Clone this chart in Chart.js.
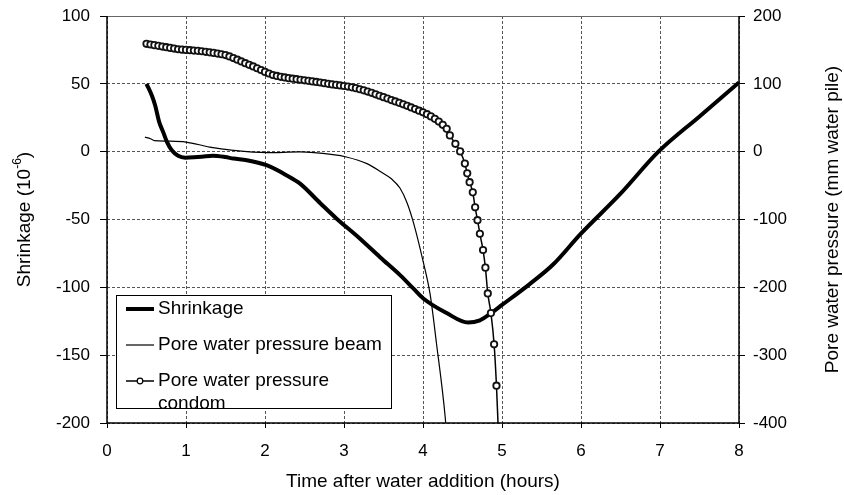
<!DOCTYPE html>
<html>
<head>
<meta charset="utf-8">
<script src="https://cdn.jsdelivr.net/npm/chart.js@4.4.0/dist/chart.umd.min.js"></script>
<style>
  html, body { margin: 0; padding: 0; background: #fff; }
  #grafica { display: block; }
</style>
</head>
<body>
<canvas id="grafica" width="844" height="495"></canvas>
<script>
// Shrinkage (10^-6), left axis
const shrinkHours = [0.5, 0.57, 0.61, 0.66, 0.71, 0.76, 0.82, 0.9, 0.99, 1.1, 1.2, 1.34, 1.5, 1.6, 1.77,
  2.02, 2.27, 2.44, 2.7, 2.9, 3.2, 3.46, 3.71, 3.88, 4.0, 4.3, 4.57, 4.72, 4.85, 5.0, 5.35, 5.65, 5.99,
  6.5, 6.98, 7.5, 8.0];
const shrinkValues = [50, 41, 34, 22, 14.6, 7, 1, -3, -4.4, -4.2, -3.8, -3, -4, -5.1, -6.3,
  -10, -17.3, -23.4, -38, -49, -64, -78, -91, -101, -108, -119, -126, -124.3, -119.5, -113, -97.6, -83, -61,
  -31, 0, 26, 51];

// Pore water pressure beam (mm water pile), right axis
const beamHours = [0.48, 0.55, 0.6, 0.76, 1.0, 1.3, 1.6, 2.02, 2.44, 2.86, 3.03, 3.29, 3.47, 3.6, 3.71,
  3.8, 3.88, 4.0, 4.09, 4.17, 4.28, 4.3];
const beamValues = [21.4, 19, 16.4, 15.6, 14.2, 6.8, 2, -1.4, -0.4, -4.4, -7.8, -17.6, -30, -40, -54,
  -76, -105, -161, -210, -282, -390, -420];

// Pore water pressure condom (mm water pile), right axis
const condomHours = [0.5, 0.55, 0.6, 0.65, 0.7, 0.75, 0.8, 0.85, 0.9, 0.95, 1.0, 1.05, 1.1, 1.15, 1.2,
  1.25, 1.3, 1.35, 1.4, 1.45, 1.5, 1.55, 1.6, 1.65, 1.7, 1.75, 1.8, 1.85, 1.9, 1.95, 2.0, 2.05, 2.1,
  2.15, 2.2, 2.25, 2.3, 2.35, 2.4, 2.45, 2.5, 2.55, 2.6, 2.65, 2.7, 2.75, 2.8, 2.85, 2.9, 2.95, 3.0,
  3.05, 3.1, 3.15, 3.2, 3.25, 3.3, 3.35, 3.4, 3.45, 3.5, 3.55, 3.6, 3.65, 3.7, 3.75, 3.8, 3.85, 3.9,
  3.95, 4.0, 4.05, 4.1, 4.15, 4.2, 4.25, 4.3, 4.34, 4.41, 4.47, 4.53, 4.56, 4.59, 4.63, 4.66, 4.69,
  4.72, 4.76, 4.79, 4.82, 4.86, 4.9, 4.93, 4.96];
const condomValues = [159, 158, 157, 156, 155, 154, 153, 152, 151, 150.4, 150, 149.6, 149, 148.6, 148,
  147.2, 146.4, 145.6, 144.6, 143.6, 142.4, 140.4, 138, 135.6, 133, 130.4, 128, 125.6, 123, 120.4, 117.6,
  115.2, 113, 111.6, 110.4, 109.4, 108.4, 107.6, 106.8, 106, 105.2, 104.4, 103.6, 102.8, 102, 101, 100,
  99.2, 98.4, 97.6, 96.8, 96, 94.8, 93.6, 92, 90.4, 88.6, 86.8, 84.6, 82.4, 80.4, 78.4, 76, 74, 72,
  69.8, 67.6, 65.2, 62.8, 60.4, 58, 55.2, 52, 48.4, 44.4, 39.6, 33.6, 24, 11.6, 0.4, -17.6, -32, -45,
  -60, -82, -101, -121, -145, -171, -209, -238, -284, -345, -430];

const leftTicks = [-200, -150, -100, -50, 0, 50, 100];
const rightTicks = [-400, -300, -200, -100, 0, 100, 200];
const hourTicks = [0, 1, 2, 3, 4, 5, 6, 7, 8];

const seriesNames = ['Shrinkage', 'Pore water pressure beam', 'Pore water pressure condom'];

const FONT = '"Liberation Sans", Arial, sans-serif';

function puntos(xs, ys) {
  return xs.map((x, i) => ({ x: x, y: ys[i] }));
}

// Marco, leyenda y títulos de ejes
const extras = {
  id: 'extras',
  beforeDatasetsDraw(chart) {
    const { ctx, chartArea: a } = chart;
    ctx.save();
    ctx.setLineDash([]);
    ctx.lineWidth = 1;
    ctx.strokeStyle = '#666';
    ctx.beginPath();
    ctx.moveTo(a.left, a.top + 0.5);
    ctx.lineTo(a.right, a.top + 0.5);
    ctx.stroke();
    ctx.strokeStyle = '#000';
    ctx.lineWidth = 1.5;
    ctx.beginPath();
    ctx.moveTo(a.left, a.top);
    ctx.lineTo(a.left, a.bottom);
    ctx.lineTo(a.right, a.bottom);
    ctx.lineTo(a.right, a.top);
    ctx.stroke();
    ctx.restore();
  },
  afterDatasetsDraw(chart) {
    const ctx = chart.ctx;
    const box = { x: 116, y: 295, w: 275, h: 113 };
    ctx.save();
    ctx.fillStyle = '#fff';
    ctx.fillRect(box.x, box.y, box.w, box.h);
    ctx.beginPath();
    ctx.rect(box.x, box.y, box.w, box.h);
    ctx.clip();
    ctx.fillStyle = '#000';
    ctx.strokeStyle = '#000';
    ctx.font = '19px ' + FONT;
    ctx.textBaseline = 'middle';
    ctx.textAlign = 'left';
    // Shrinkage
    ctx.lineWidth = 4;
    ctx.beginPath(); ctx.moveTo(126, 309); ctx.lineTo(154, 309); ctx.stroke();
    ctx.fillText(seriesNames[0], 158, 309);
    // Beam
    ctx.lineWidth = 1.2;
    ctx.beginPath(); ctx.moveTo(126, 345); ctx.lineTo(154, 345); ctx.stroke();
    ctx.fillText(seriesNames[1], 158, 345);
    // Condom
    ctx.lineWidth = 1.5;
    ctx.beginPath(); ctx.moveTo(126, 381); ctx.lineTo(154, 381); ctx.stroke();
    ctx.beginPath(); ctx.arc(140, 381, 2.8, 0, Math.PI * 2);
    ctx.fillStyle = '#fff'; ctx.fill(); ctx.lineWidth = 1.2; ctx.stroke();
    ctx.fillStyle = '#000';
    ctx.fillText('Pore water pressure', 158, 381);
    ctx.fillText('condom', 158, 404);
    ctx.restore();
    ctx.save();
    ctx.strokeStyle = '#000';
    ctx.lineWidth = 1;
    ctx.strokeRect(box.x + 0.5, box.y + 0.5, box.w, box.h);
    ctx.restore();
  },
  afterDraw(chart) {
    const { ctx, chartArea: a } = chart;
    const midY = (a.top + a.bottom) / 2;
    ctx.save();
    ctx.fillStyle = '#000';
    ctx.font = '19px ' + FONT;
    ctx.textBaseline = 'middle';
    ctx.textAlign = 'center';
    ctx.fillText('Time after water addition (hours)', (a.left + a.right) / 2, 482);

    // Eje izquierdo con superíndice
    ctx.save();
    ctx.translate(25, midY);
    ctx.rotate(-Math.PI / 2);
    const t1 = 'Shrinkage (10';
    const sup = '-6';
    const t2 = ')';
    ctx.font = '19px ' + FONT;
    const w1 = ctx.measureText(t1).width;
    const w3 = ctx.measureText(t2).width;
    ctx.font = '12px ' + FONT;
    const w2 = ctx.measureText(sup).width;
    let x = -(w1 + w2 + w3) / 2;
    ctx.textAlign = 'left';
    ctx.font = '19px ' + FONT;
    ctx.fillText(t1, x, 0);
    x += w1;
    ctx.font = '12px ' + FONT;
    ctx.fillText(sup, x, -7);
    x += w2;
    ctx.font = '19px ' + FONT;
    ctx.fillText(t2, x, 0);
    ctx.restore();

    // Eje derecho
    ctx.save();
    ctx.translate(833, midY);
    ctx.rotate(-Math.PI / 2);
    ctx.textAlign = 'center';
    ctx.fillText('Pore water pressure (mm water pile)', 0, 0);
    ctx.restore();
    ctx.restore();
  }
};

const gridComun = {
  color: '#555',
  lineWidth: 1,
  tickColor: '#000',
  tickLength: 6,
  tickBorderDash: [],
  tickWidth: 1
};

function ajusteVertical(ancho) {
  return s => {
    s.width = ancho;
    s.paddingTop = 0;
    s.paddingBottom = 0;
  };
}

new Chart(document.getElementById('grafica'), {
  type: 'line',
  data: {
    datasets: [
      {
        label: seriesNames[2],
        data: puntos(condomHours, condomValues),
        yAxisID: 'y2',
        borderColor: '#000',
        borderWidth: 1.5,
        pointRadius: 3.2,
        pointBorderWidth: 1.8,
        pointBackgroundColor: '#fff',
        pointBorderColor: '#111',
        cubicInterpolationMode: 'monotone',
        order: 0
      },
      {
        label: seriesNames[0],
        data: puntos(shrinkHours, shrinkValues),
        yAxisID: 'y',
        borderColor: '#000',
        borderWidth: 4,
        pointRadius: 0,
        cubicInterpolationMode: 'monotone',
        order: 1
      },
      {
        label: seriesNames[1],
        data: puntos(beamHours, beamValues),
        yAxisID: 'y2',
        borderColor: '#000',
        borderWidth: 1.2,
        pointRadius: 0,
        cubicInterpolationMode: 'monotone',
        order: 2
      }
    ]
  },
  options: {
    responsive: false,
    animation: false,
    events: [],
    layout: { padding: { top: 16, left: 0, right: 0, bottom: 0 } },
    plugins: {
      legend: { display: false },
      tooltip: { enabled: false }
    },
    scales: {
      x: {
        type: 'linear',
        min: hourTicks[0],
        max: hourTicks[hourTicks.length - 1],
        afterBuildTicks: s => { s.ticks = hourTicks.map(v => ({ value: v })); },
        afterFit: s => { s.height = 72; s.paddingLeft = 0; s.paddingRight = 0; },
        grid: { ...gridComun, tickLength: 5 },
        border: { display: false, dash: [3, 2] },
        ticks: { color: '#000', font: { size: 17, family: FONT }, padding: 13, maxRotation: 0 }
      },
      y: {
        position: 'left',
        min: leftTicks[0],
        max: leftTicks[leftTicks.length - 1],
        afterBuildTicks: s => { s.ticks = leftTicks.map(v => ({ value: v })); },
        afterFit: ajusteVertical(107),
        grid: { ...gridComun, tickLength: 7 },
        border: { display: false, dash: [3, 2] },
        ticks: { color: '#000', font: { size: 17, family: FONT }, padding: 10 }
      },
      y2: {
        position: 'right',
        min: rightTicks[0],
        max: rightTicks[rightTicks.length - 1],
        afterBuildTicks: s => { s.ticks = rightTicks.map(v => ({ value: v })); },
        afterFit: ajusteVertical(105),
        grid: { ...gridComun, drawOnChartArea: false },
        border: { display: false },
        ticks: { color: '#000', font: { size: 17, family: FONT }, padding: 8 }
      }
    }
  },
  plugins: [extras]
});
</script>
</body>
</html>
